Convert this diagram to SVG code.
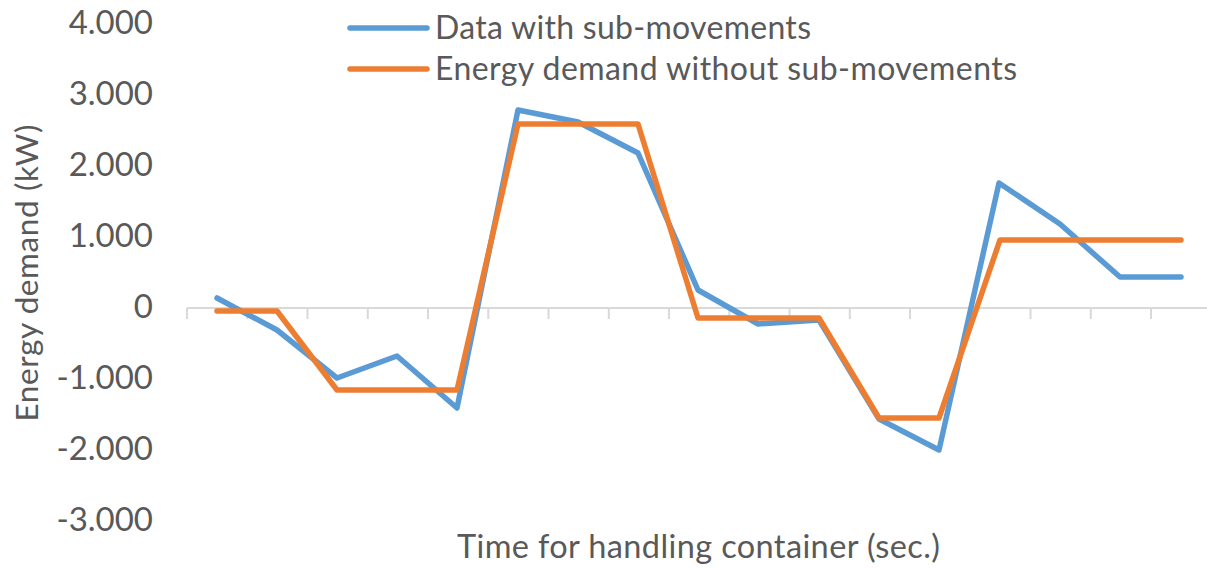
<svg xmlns="http://www.w3.org/2000/svg" width="1207" height="569" viewBox="0 0 1207 569">
<style>
.lbl{font-family:Lato,"Open Sans","Liberation Sans",sans-serif;fill:#595959;}
.ytick{font-size:33px;text-anchor:end;}
.axis{stroke:#d9d9d9;stroke-width:2;fill:none;}
.ser{fill:none;stroke-width:5.5;stroke-linejoin:round;stroke-linecap:round;}
.blue{stroke:#5b9bd5;}
.orange{stroke:#ed7d31;}
</style>
<rect width="1207" height="569" fill="#ffffff"/>
<g id="y-axis-labels">
<text class="lbl ytick" x="153" y="34">4.000</text>
<text class="lbl ytick" x="153" y="105">3.000</text>
<text class="lbl ytick" x="153" y="176">2.000</text>
<text class="lbl ytick" x="153" y="247">1.000</text>
<text class="lbl ytick" x="153" y="318">0</text>
<text class="lbl ytick" x="153" y="389">-1.000</text>
<text class="lbl ytick" x="153" y="460">-2.000</text>
<text class="lbl ytick" x="153" y="531">-3.000</text>
</g>
<g id="y-axis-title">
<text class="lbl" font-size="31.5" text-anchor="middle" textLength="297" transform="translate(38,273) rotate(-90)">Energy demand (kW)</text>
</g>
<g id="x-axis">
<path class="axis" d="M187,308 H1207 M187,308 V319 M247.3,308 V319 M307.5,308 V319 M367.8,308 V319 M428,308 V319 M488.3,308 V319 M548.5,308 V319 M608.8,308 V319 M669,308 V319 M729.3,308 V319 M789.5,308 V319 M849.8,308 V319 M910,308 V319 M970.3,308 V319 M1030.5,308 V319 M1090.8,308 V319 M1151,308 V319"/>
<text class="lbl" font-size="32.5" x="457" y="558" textLength="483">Time for handling container (sec.)</text>
</g>
<g id="series-blue">
<polyline class="ser blue" points="217,298 277,330 337,378 397,356 457,408 518,110 578,122 638,153 698,290 758,324 819,320 879,419 939,450 999,183 1060,224 1120,277 1181,277"/>
</g>
<g id="series-orange">
<polyline class="ser orange" points="217,311 277,311 337,390 397,390 457,390 518,124 578,124 638,124 698,318 758,318 819,318 879,418 939,418 1000,240 1060,240 1120,240 1181,240"/>
</g>
<g id="legend">
<line class="ser blue" x1="350" y1="28" x2="427" y2="28"/>
<text class="lbl" font-size="32" x="435" y="39" textLength="376">Data with sub-movements</text>
<line class="ser orange" x1="350" y1="69" x2="427" y2="69"/>
<text class="lbl" font-size="32" x="435" y="80" textLength="582">Energy demand without sub-movements</text>
</g>
</svg>
